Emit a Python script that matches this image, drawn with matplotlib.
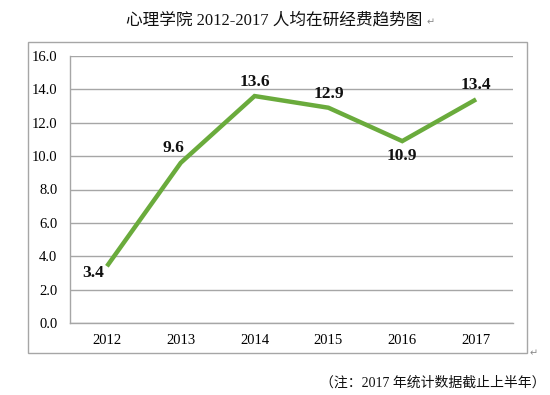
import matplotlib
matplotlib.use("Agg")
import matplotlib.pyplot as plt
from matplotlib.patches import Rectangle

years = ["2012", "2013", "2014", "2015", "2016", "2017"]
values = [3.4, 9.6, 13.6, 12.9, 10.9, 13.4]
yticks = [0, 2, 4, 6, 8, 10, 12, 14, 16]
title = "心理学院 2012-2017 人均在研经费趋势图"
note = "（注：2017 年统计数据截止上半年）"

W, H = 550, 395
fig = plt.figure(figsize=(W / 100, H / 100), dpi=100)
fonts = ["Liberation Serif", "Noto Sans CJK SC", "DejaVu Sans"]

def fx(x):
    return x / W

def fy(y):
    return 1 - y / H

# outer chart border
fig.patches.append(Rectangle((fx(28), fy(353)), fx(527) - fx(28), fy(42) - fy(353),
                             transform=fig.transFigure, fill=False,
                             edgecolor="#a6a6a6", linewidth=1.0))

ax = fig.add_axes([fx(70), fy(323), fx(513) - fx(70), fy(56) - fy(323)])
x = list(range(len(years)))
ax.plot(x, values, color="#6aab3c", linewidth=3.2, solid_capstyle="butt",
        solid_joinstyle="miter")
ax.set_xlim(-0.5, len(years) - 0.5)
ax.set_ylim(0, 16)
ax.set_yticks(yticks)
ax.set_yticklabels([f"{v:.1f}" for v in yticks], fontfamily=fonts, fontsize=10.5)
ax.set_xticks(x)
ax.set_xticklabels(years, fontfamily=fonts, fontsize=10.5)
ax.tick_params(length=0, pad=9)
ax.tick_params(axis="x", pad=8)
ax.grid(axis="y", color="#a6a6a6", linewidth=1.0)
ax.set_axisbelow(True)
for s in ["top", "right"]:
    ax.spines[s].set_visible(False)
for s in ["left", "bottom"]:
    ax.spines[s].set_color("#a6a6a6")
    ax.spines[s].set_linewidth(1.0)

offsets = [(-10, -5), (-5, 11), (0, 10), (0, 10), (0, -11), (0, 10)]
for xi, v, (dx, dy) in zip(x, values, offsets):
    ax.annotate(f"{v:.1f}", (xi, v), xytext=(dx, dy), textcoords="offset points",
                ha="center", va="center", fontsize=12.5, fontweight="bold",
                fontfamily=fonts, color="#111111")

fig.text(fx(274), fy(20), title, ha="center", va="center", fontsize=12,
         fontfamily=fonts, color="#111111")
fig.text(fx(427), fy(22), "↵", ha="left", va="center", fontsize=7,
         fontfamily=["DejaVu Sans"], color="#888888")
fig.text(fx(433), fy(383), note, ha="center", va="center", fontsize=10,
         fontfamily=fonts, color="#111111")
fig.text(fx(530), fy(353), "↵", ha="left", va="center", fontsize=7,
         fontfamily=["DejaVu Sans"], color="#888888")

fig.savefig("out.png", dpi=100)
